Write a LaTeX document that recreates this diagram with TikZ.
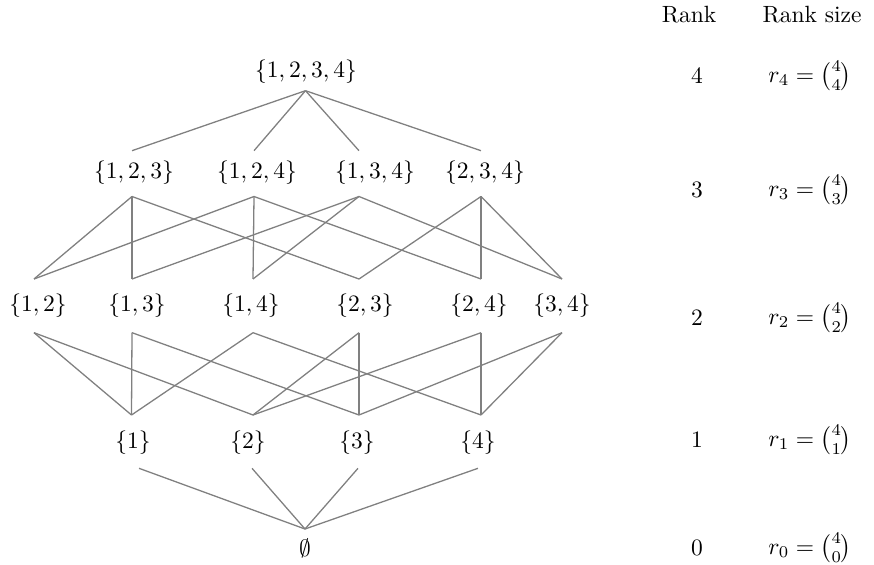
\documentclass[tikz,border=0pt]{standalone}
\usepackage{amsmath}
\begin{document}
\begin{tikzpicture}[x=0.4255pt,y=-0.4255pt,
  setnode/.style={inner sep=0pt, text=black},
  edge/.style={draw=gray, line width=0.55pt},
  lbl/.style={inner sep=0pt}]
\useasboundingbox (0,0) rectangle (874,565);
% set nodes
\node[setnode] (s1234) at (306,72) {$\{1,2,3,4\}$};
\node[setnode] (s123) at (134,173) {$\{1,2,3\}$};
\node[setnode] (s124) at (257,173) {$\{1,2,4\}$};
\node[setnode] (s134) at (375,173) {$\{1,3,4\}$};
\node[setnode] (s234) at (485,173) {$\{2,3,4\}$};
\node[setnode] (s12) at (38,306) {$\{1,2\}$};
\node[setnode] (s13) at (137,306) {$\{1,3\}$};
\node[setnode] (s14) at (251,306) {$\{1,4\}$};
\node[setnode] (s23) at (365,306) {$\{2,3\}$};
\node[setnode] (s24) at (479,306) {$\{2,4\}$};
\node[setnode] (s34) at (562,306) {$\{3,4\}$};
\node[setnode] (s1) at (133,443) {$\{1\}$};
\node[setnode] (s2) at (248,443) {$\{2\}$};
\node[setnode] (s3) at (357,443) {$\{3\}$};
\node[setnode] (s4) at (478,443) {$\{4\}$};
\node[setnode] (s0) at (305,548) {$\emptyset$};
% connection points
\coordinate (b1234) at (305.5,90.7);
\coordinate (t123) at (132,150.7);
\coordinate (t124) at (254,150.7);
\coordinate (t134) at (359,150.7);
\coordinate (t234) at (481,150.7);
\coordinate (b123) at (132,196.5);
\coordinate (b124) at (254,196.5);
\coordinate (b134) at (359,196.5);
\coordinate (b234) at (481,196.5);
\coordinate (t12) at (34,279);
\coordinate (t13) at (132,279);
\coordinate (t14) at (253,279);
\coordinate (t23) at (359,279);
\coordinate (t24) at (481,279);
\coordinate (t34) at (562,279);
\coordinate (b12) at (34,332.7);
\coordinate (b13) at (132,332.7);
\coordinate (b14) at (253,332.7);
\coordinate (b23) at (359,332.7);
\coordinate (b24) at (481,332.7);
\coordinate (b34) at (562,332.7);
\coordinate (t1) at (131.5,415);
\coordinate (t2) at (253,415);
\coordinate (t3) at (359,415);
\coordinate (t4) at (481,415);
\coordinate (b1) at (139,468.3);
\coordinate (b2) at (252,468.3);
\coordinate (b3) at (358,468.3);
\coordinate (b4) at (478,468.3);
\coordinate (t0) at (305,529);
% edges rank 4 - 3
\foreach \a in {123,124,134,234} \draw[edge] (b1234) -- (t\a);
% edges rank 3 - 2
\draw[edge] (b123) -- (t12);
\draw[edge] (b123) -- (t13);
\draw[edge] (b123) -- (t23);
\draw[edge] (b124) -- (t12);
\draw[edge] (b124) -- (t14);
\draw[edge] (b124) -- (t24);
\draw[edge] (b134) -- (t13);
\draw[edge] (b134) -- (t14);
\draw[edge] (b134) -- (t34);
\draw[edge] (b234) -- (t23);
\draw[edge] (b234) -- (t24);
\draw[edge] (b234) -- (t34);
% edges rank 2 - 1
\draw[edge] (b12) -- (t1);
\draw[edge] (b12) -- (t2);
\draw[edge] (b13) -- (t1);
\draw[edge] (b13) -- (t3);
\draw[edge] (b14) -- (t1);
\draw[edge] (b14) -- (t4);
\draw[edge] (b23) -- (t2);
\draw[edge] (b23) -- (t3);
\draw[edge] (b24) -- (t2);
\draw[edge] (b24) -- (t4);
\draw[edge] (b34) -- (t3);
\draw[edge] (b34) -- (t4);
% edges rank 1 - 0
\foreach \a in {1,2,3,4} \draw[edge] (b\a) -- (t0);
% right column
\node[lbl] (hrank) at (689,15) {Rank};
\node[lbl] (hsize) at (812,15) {Rank size};
\node[lbl] (k4) at (697,76) {4};
\node[lbl] (k3) at (697,190) {3};
\node[lbl] (k2) at (697,318) {2};
\node[lbl] (k1) at (697,440) {1};
\node[lbl] (k0) at (697,548) {0};
\node[lbl] (r4) at (810,76) {$r_4 = \binom{4}{4}$};
\node[lbl] (r3) at (810,190) {$r_3 = \binom{4}{3}$};
\node[lbl] (r2) at (810,318) {$r_2 = \binom{4}{2}$};
\node[lbl] (r1) at (810,440) {$r_1 = \binom{4}{1}$};
\node[lbl] (r0) at (810,548) {$r_0 = \binom{4}{0}$};
\end{tikzpicture}
\end{document}
